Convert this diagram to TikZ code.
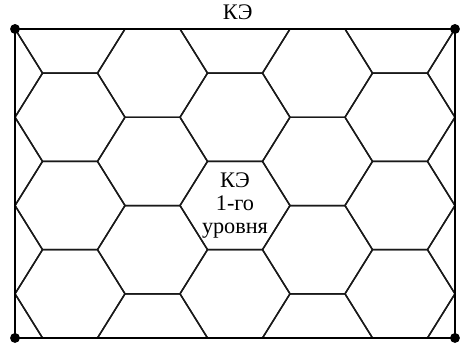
\documentclass[tikz,border=0pt]{standalone}
\usepackage{fontspec}
\setmainfont{Liberation Serif}
\usepackage{tikz}
\usetikzlibrary{calc}

\begin{document}
\begin{tikzpicture}[
  hx/.style={line width=0.75pt, color=black!90},
  fr/.style={line width=1.1pt},
  dt/.style={circle, fill=black, inner sep=0pt, minimum size=0.18cm},
  lb/.style={font=\fontsize{11.5}{12}\selectfont, align=center, inner sep=1pt}
]
  \def\hh{0.8026}
  \useasboundingbox (-0.273,-0.164) rectangle (8.164,6.145);
  \coordinate (sw) at (0,0);
  \coordinate (ne) at (8,7*\hh);
  \coordinate (nw) at (sw|-ne);
  \coordinate (se) at (ne|-sw);
  % hexagon cells, clipped to the frame
  \begin{scope}
    \clip (sw) rectangle (ne);
    \foreach \i in {0,...,6} {
      \foreach \j in {-1,...,4} {
        \pgfmathsetmacro{\cx}{-0.5+1.5*\i}
        \pgfmathsetmacro{\cy}{(2*\j+mod(\i,2))*\hh}
        \draw[hx] (\cx-1,\cy) -- ++(0.5,\hh) -- ++(1,0) -- ++(0.5,-\hh)
          -- ++(-0.5,-\hh) -- ++(-1,0) -- cycle;
      }
    }
  \end{scope}
  \draw[fr] (sw) rectangle (ne);
  \foreach \c in {sw,se,ne,nw}
    \node[dt] at (\c) {};
  \node[lb, anchor=base] (top) at ($(nw)!0.506!(ne)+(0,0.18)$) {КЭ};
  \node[lb] (lvl) at (4,3*\hh) {КЭ\\1-го\\уровня};
\end{tikzpicture}
\end{document}
